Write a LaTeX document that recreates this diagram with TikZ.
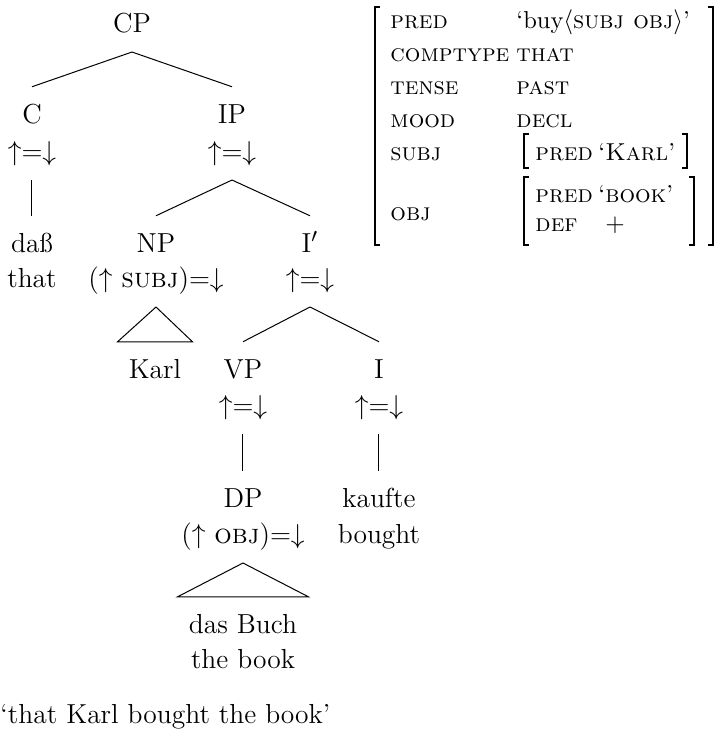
\documentclass[tikz,border=0pt]{standalone}
\usepackage{amsmath}
\usepackage{amssymb}
\newcommand{\upeqdown}{$\uparrow$=$\downarrow$}

\begin{document}
\begin{tikzpicture}[x=0.4pt,y=-0.4pt,font=\fontsize{11pt}{13.5pt}\selectfont,
  lbl/.style={inner sep=0pt,outer xsep=0pt,outer ysep=6.5pt,text height=8pt,text depth=1.5pt,anchor=base},
  avm/.style={inner sep=0pt,anchor=base west,font=\fontsize{9.8pt}{12pt}\selectfont},
  brk/.style={line width=0.9pt}]
  \useasboundingbox (0,0) rectangle (717,736);
  \node[lbl] (cp) at (132,32) {CP};
  \node[lbl] (c) at (32,123) {C};
  \node[lbl] (cann) at (32,160) {\upeqdown};
  \node[lbl] (ip) at (232,123) {IP};
  \node[lbl] (ipann) at (232,160) {\upeqdown};
  \node[lbl] (dass) at (32,252) {daß};
  \node[lbl] (that) at (32,287) {that};
  \node[lbl] (np) at (156,252) {NP};
  \node[lbl] (npann) at (156,287) {($\uparrow$ \textsc{subj})=$\downarrow$};
  \node[lbl] (ibar) at (310,252) {I$'$};
  \node[lbl] (ibarann) at (310,287) {\upeqdown};
  \node[lbl] (karl) at (155,378) {Karl};
  \node[lbl] (vp) at (243,378) {VP};
  \node[lbl] (vpann) at (243,414) {\upeqdown};
  \node[lbl] (i) at (379,378) {I};
  \node[lbl] (iann) at (379,414) {\upeqdown};
  \node[lbl] (dp) at (243,507) {DP};
  \node[lbl] (dpann) at (243,543) {($\uparrow$ \textsc{obj})=$\downarrow$};
  \node[lbl] (kaufte) at (379,507) {kaufte};
  \node[lbl] (bought) at (379,543) {bought};
  \node[lbl] (dasbuch) at (243,633) {das Buch};
  \node[lbl] (thebook) at (243,668) {the book};
  \node[anchor=base west,inner sep=0pt] (gloss) at (0,723) {`that Karl bought the book'};
  \draw (cp.south) -- (c.north);
  \draw (cp.south) -- (ip.north);
  \draw (cann.south) -- (dass.north);
  \draw (ipann.south) -- (np.north);
  \draw (ipann.south) -- (ibar.north);
  \draw (npann.south) -- ([xshift=-4.5pt]karl.north west) -- ([xshift=4.5pt]karl.north east) -- cycle;
  \draw (ibarann.south) -- (vp.north);
  \draw (ibarann.south) -- (i.north);
  \draw (vpann.south) -- (dp.north);
  \draw (iann.south) -- (kaufte.north);
  \draw (dpann.south) -- ([xshift=-4.5pt]dasbuch.north west) -- ([xshift=4.5pt]dasbuch.north east) -- cycle;
  \node[avm] (apred) at (390,28) {\textsc{pred}};
  \node[avm] (vpred) at (516,28) {`buy$\langle$\textsc{subj obj}$\rangle$'};
  \node[avm] (acomp) at (390,61) {\textsc{comptype}};
  \node[avm] (vcomp) at (516,61) {\textsc{that}};
  \node[avm] (atense) at (390,94) {\textsc{tense}};
  \node[avm] (vtense) at (516,94) {\textsc{past}};
  \node[avm] (amood) at (390,127) {\textsc{mood}};
  \node[avm] (vmood) at (516,127) {\textsc{decl}};
  \node[avm] (asubj) at (390,160) {\textsc{subj}};
  \node[avm] (spred) at (535,160) {\textsc{pred}};
  \node[avm] (skarl) at (598,160) {`\textsc{Karl}'};
  \node[avm] (aobj) at (390,220) {\textsc{obj}};
  \node[avm] (opred) at (535,202) {\textsc{pred}};
  \node[avm] (obook) at (598,202) {`\textsc{book}'};
  \node[avm] (odef) at (535,231) {\textsc{def}};
  \node[avm] (oplus) at (605,231) {$+$};
  \draw[brk] (380,7) -- (375,7) -- (375,245) -- (380,245);
  \draw[brk] (708,7) -- (713,7) -- (713,245) -- (708,245);
  \draw[brk] (529,134) -- (524,134) -- (524,168) -- (529,168);
  \draw[brk] (682,134) -- (687,134) -- (687,168) -- (682,168);
  \draw[brk] (529,177) -- (524,177) -- (524,245) -- (529,245);
  \draw[brk] (689,177) -- (694,177) -- (694,245) -- (689,245);
\end{tikzpicture}
\end{document}
